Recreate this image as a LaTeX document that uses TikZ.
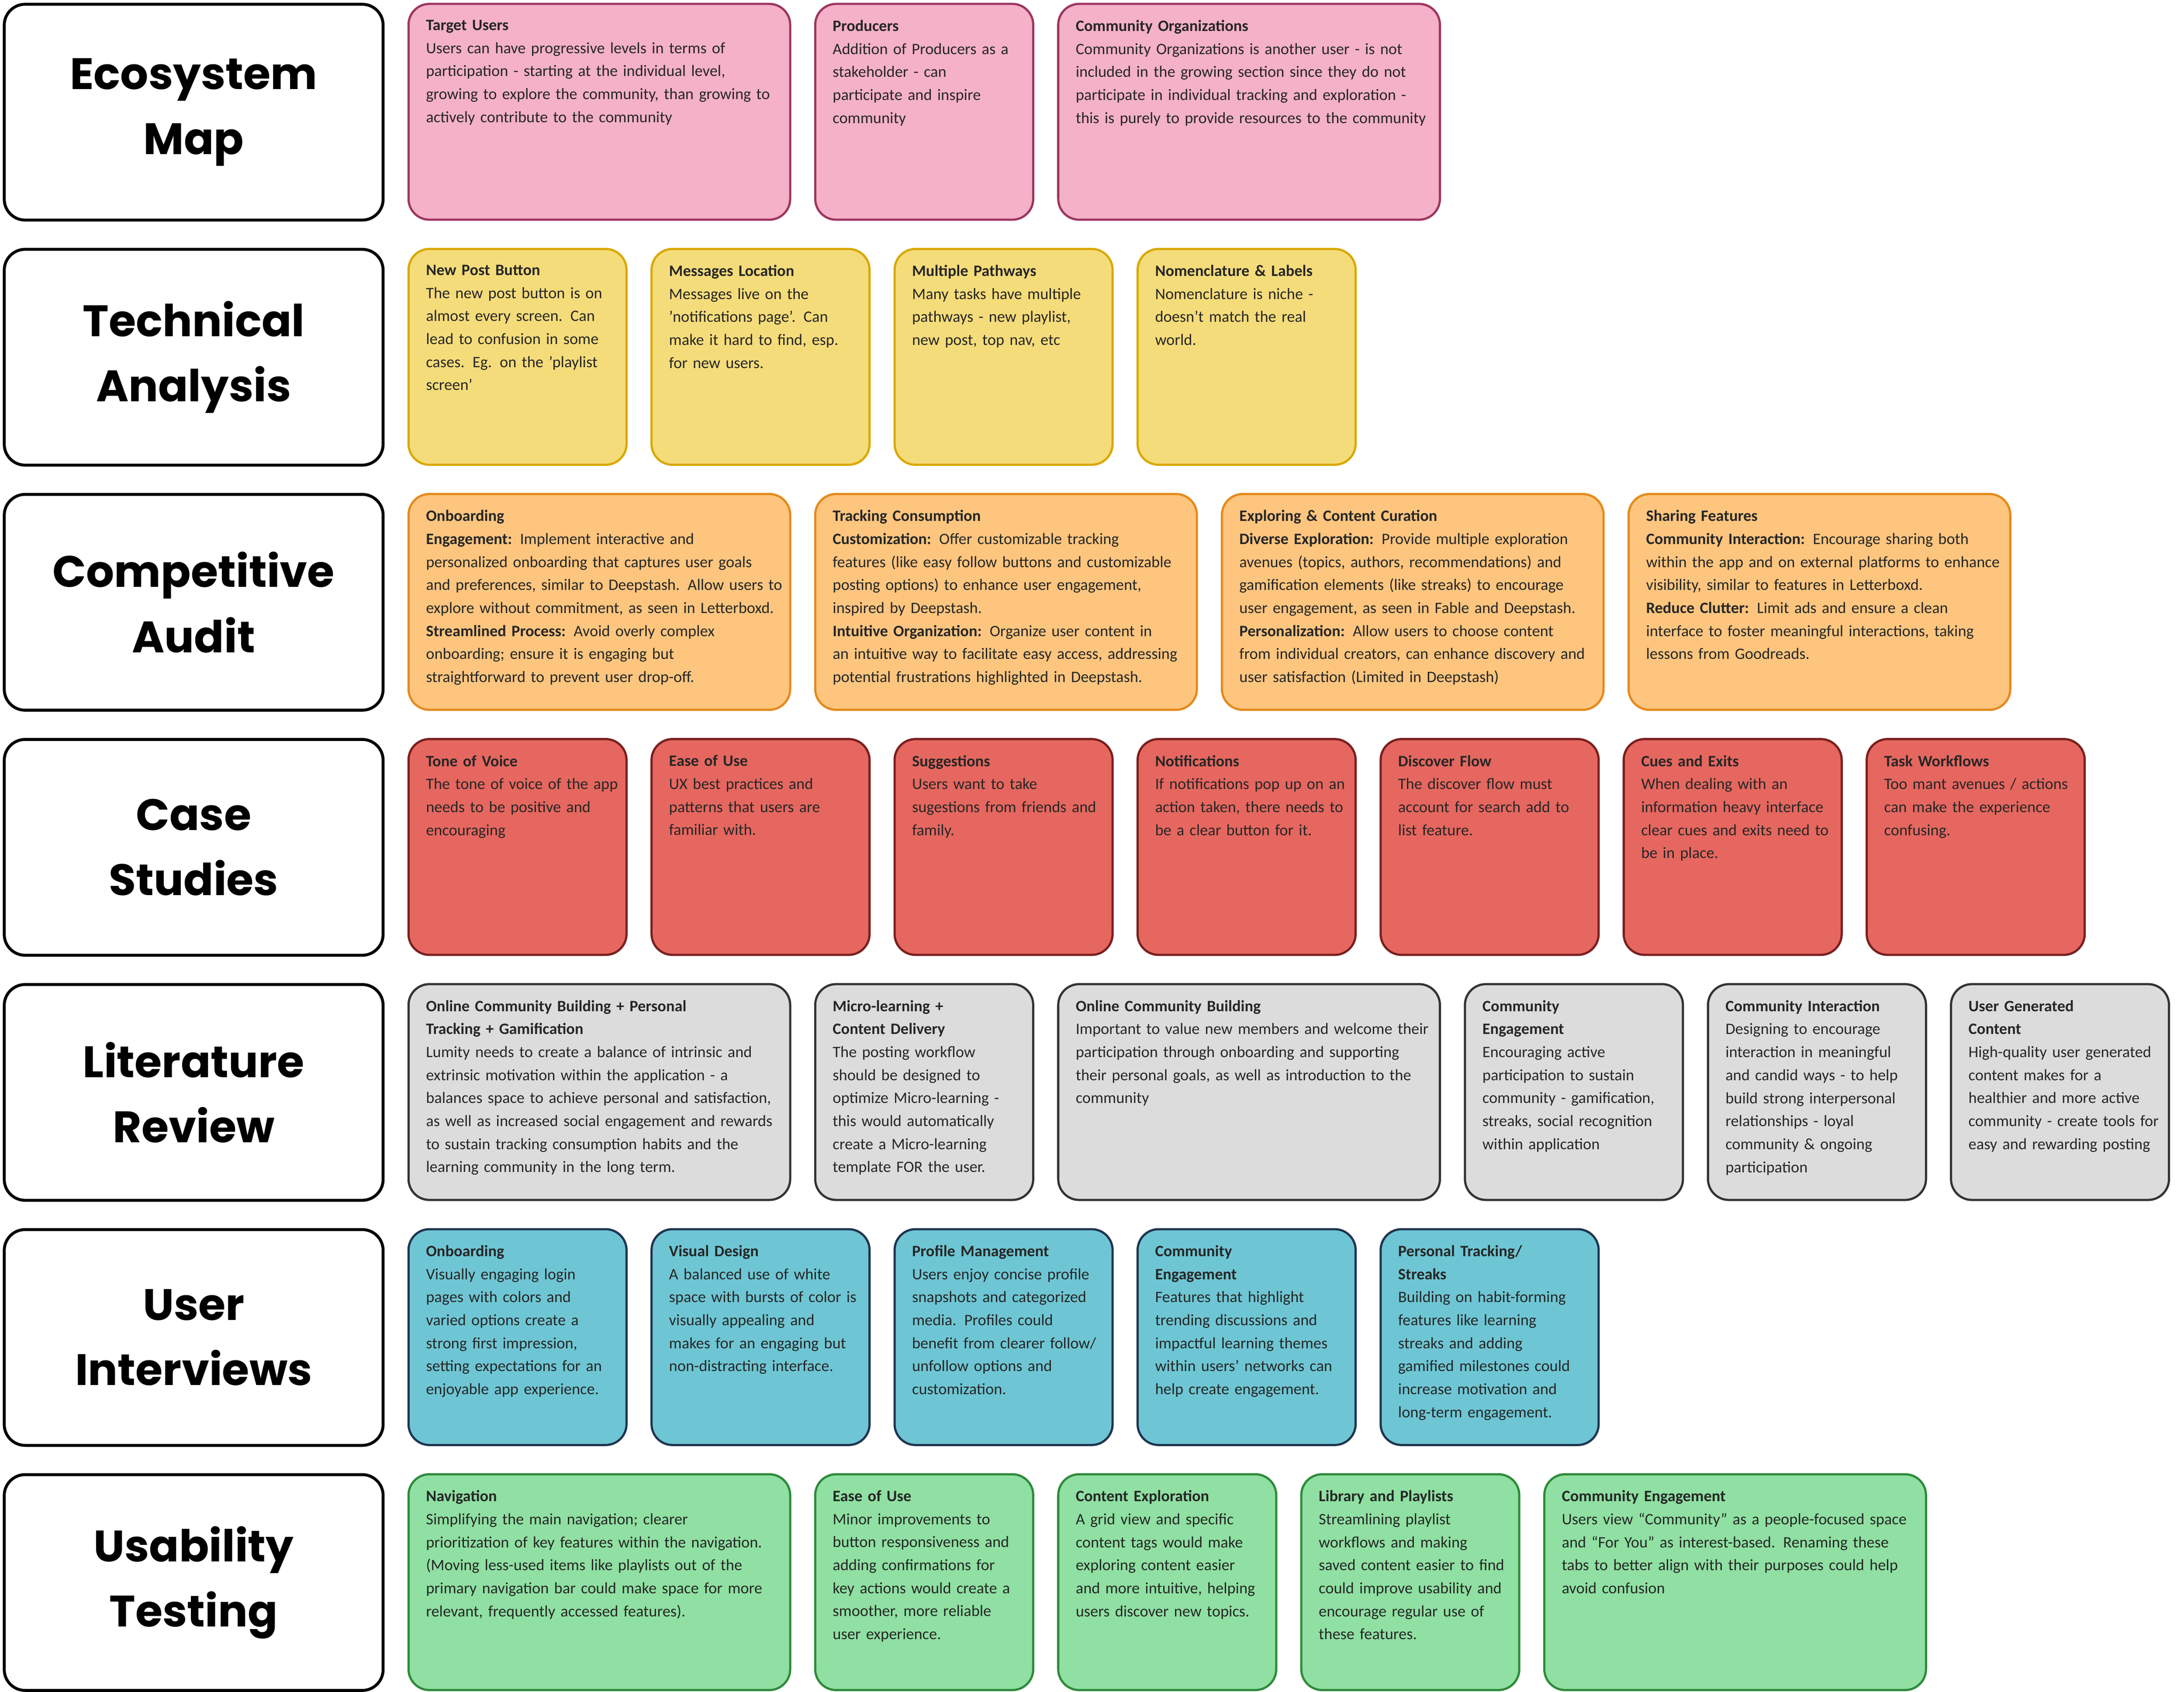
\documentclass[tikz,border=0pt]{standalone}
\usepackage{fontspec}
\setmainfont{Carlito}
\newfontfamily\labelfont{Poppins}
\usetikzlibrary{positioning}

\definecolor{pinkfill}{HTML}{F4B1C8}\definecolor{pinkline}{HTML}{9E3561}
\definecolor{yelfill}{HTML}{F5DC7A}\definecolor{yelline}{HTML}{D9A800}
\definecolor{orafill}{HTML}{FDC57E}\definecolor{oraline}{HTML}{E58A1C}
\definecolor{redfill}{HTML}{E5675F}\definecolor{redline}{HTML}{7A1F1F}
\definecolor{grayfill}{HTML}{DCDCDC}\definecolor{grayline}{HTML}{333333}
\definecolor{bluefill}{HTML}{6EC6D4}\definecolor{blueline}{HTML}{1F3550}
\definecolor{grnfill}{HTML}{8FE0A2}\definecolor{grnline}{HTML}{2E8B3A}

\tikzset{
  cardbase/.style={rectangle,rounded corners=0.3cm,line width=0.9pt,minimum height=3.1cm,inner sep=0pt},
  pinkcard/.style={cardbase,draw=pinkline,fill=pinkfill},
  yelcard/.style={cardbase,draw=yelline,fill=yelfill},
  oracard/.style={cardbase,draw=oraline,fill=orafill},
  redcard/.style={cardbase,draw=redline,fill=redfill},
  graycard/.style={cardbase,draw=grayline,fill=grayfill},
  bluecard/.style={cardbase,draw=blueline,fill=bluefill},
  grncard/.style={cardbase,draw=grnline,fill=grnfill},
  rowlabel/.style={cardbase,draw=black,line width=1.2pt,fill=white,minimum width=5.44cm,
    align=center,font=\labelfont\bfseries\fontsize{18}{26.7}\selectfont},
  cardtext/.style={inner sep=0pt,align=left,font=\fontsize{6.5}{9.4}\selectfont,text=black!85}
}
% one card: name, previous node, width, style, title, body
\newcommand{\card}[6]{%
  \node[#4,minimum width=#3,below right=0cm and 0.328cm of #2.north east] (#1) {};
  \node[cardtext,text width=#3,below right=0.24cm and 0.26cm of #1.north west] (#1t) {\textbf{#5}\\#6};}

\begin{document}
\begin{tikzpicture}
  \useasboundingbox (0,0) rectangle (31.36,-24.3);

  % row labels
  \node[rowlabel,anchor=north west] (L1) at (0.04,-0.04) {Ecosystem\\Map};
  \node[rowlabel,anchor=north west] (L2) at (0.04,-3.56) {Technical\\Analysis};
  \node[rowlabel,anchor=north west] (L3) at (0.04,-7.08) {Competitive\\Audit};
  \node[rowlabel,anchor=north west] (L4) at (0.04,-10.60) {Case\\Studies};
  \node[rowlabel,anchor=north west] (L5) at (0.04,-14.12) {Literature\\Review};
  \node[rowlabel,anchor=north west] (L6) at (0.04,-17.64) {User\\Interviews};
  \node[rowlabel,anchor=north west] (L7) at (0.04,-21.16) {Usability\\Testing};

  % ecosystem map
  \card{E1}{L1}{5.48cm}{pinkcard}{Target Users}{Users can have progressive levels in terms of\\participation - starting at the individual level,\\growing to explore the community, than growing to\\actively contribute to the community}
  \card{E2}{E1}{3.13cm}{pinkcard}{Producers}{Addition of Producers as a\\stakeholder - can\\participate and inspire\\community}
  \card{E3}{E2}{5.48cm}{pinkcard}{Community Organizations}{Community Organizations is another user - is not\\included in the growing section since they do not\\participate in individual tracking and exploration -\\this is purely to provide resources to the community}

  % technical analysis
  \card{T1}{L2}{3.13cm}{yelcard}{New Post Button}{The new post button is on\\almost every screen. Can\\lead to confusion in some\\cases. Eg. on the 'playlist\\screen'}
  \card{T2}{T1}{3.13cm}{yelcard}{Messages Location}{Messages live on the\\'notifications page'. Can\\make it hard to find, esp.\\for new users.}
  \card{T3}{T2}{3.13cm}{yelcard}{Multiple Pathways}{Many tasks have multiple\\pathways - new playlist,\\new post, top nav, etc}
  \card{T4}{T3}{3.13cm}{yelcard}{Nomenclature \& Labels}{Nomenclature is niche -\\doesn't match the real\\world.}

  % competitive audit
  \card{C1}{L3}{5.48cm}{oracard}{Onboarding}{\textbf{Engagement:} Implement interactive and\\personalized onboarding that captures user goals\\and preferences, similar to Deepstash. Allow users to\\explore without commitment, as seen in Letterboxd.\\\textbf{Streamlined Process:} Avoid overly complex\\onboarding; ensure it is engaging but\\straightforward to prevent user drop-off.}
  \card{C2}{C1}{5.48cm}{oracard}{Tracking Consumption}{\textbf{Customization:} Offer customizable tracking\\features (like easy follow buttons and customizable\\posting options) to enhance user engagement,\\inspired by Deepstash.\\\textbf{Intuitive Organization:} Organize user content in\\an intuitive way to facilitate easy access, addressing\\potential frustrations highlighted in Deepstash.}
  \card{C3}{C2}{5.48cm}{oracard}{Exploring \& Content Curation}{\textbf{Diverse Exploration:} Provide multiple exploration\\avenues (topics, authors, recommendations) and\\gamification elements (like streaks) to encourage\\user engagement, as seen in Fable and Deepstash.\\\textbf{Personalization:} Allow users to choose content\\from individual creators, can enhance discovery and\\user satisfaction (Limited in Deepstash)}
  \card{C4}{C3}{5.48cm}{oracard}{Sharing Features}{\textbf{Community Interaction:} Encourage sharing both\\within the app and on external platforms to enhance\\visibility, similar to features in Letterboxd.\\\textbf{Reduce Clutter:} Limit ads and ensure a clean\\interface to foster meaningful interactions, taking\\lessons from Goodreads.}

  % case studies
  \card{S1}{L4}{3.13cm}{redcard}{Tone of Voice}{The tone of voice of the app\\needs to be positive and\\encouraging}
  \card{S2}{S1}{3.13cm}{redcard}{Ease of Use}{UX best practices and\\patterns that users are\\familiar with.}
  \card{S3}{S2}{3.13cm}{redcard}{Suggestions}{Users want to take\\sugestions from friends and\\family.}
  \card{S4}{S3}{3.13cm}{redcard}{Notifications}{If notifications pop up on an\\action taken, there needs to\\be a clear button for it.}
  \card{S5}{S4}{3.13cm}{redcard}{Discover Flow}{The discover flow must\\account for search add to\\list feature.}
  \card{S6}{S5}{3.13cm}{redcard}{Cues and Exits}{When dealing with an\\information heavy interface\\clear cues and exits need to\\be in place.}
  \card{S7}{S6}{3.13cm}{redcard}{Task Workflows}{Too mant avenues / actions\\can make the experience\\confusing.}

  % literature review
  \card{R1}{L5}{5.48cm}{graycard}{Online Community Building + Personal\\Tracking + Gamification}{Lumity needs to create a balance of intrinsic and\\extrinsic motivation within the application - a\\balances space to achieve personal and satisfaction,\\as well as increased social engagement and rewards\\to sustain tracking consumption habits and the\\learning community in the long term.}
  \card{R2}{R1}{3.13cm}{graycard}{Micro-learning +\\Content Delivery}{The posting workflow\\should be designed to\\optimize Micro-learning -\\this would automatically\\create a Micro-learning\\template FOR the user.}
  \card{R3}{R2}{5.48cm}{graycard}{Online Community Building}{Important to value new members and welcome their\\participation through onboarding and supporting\\their personal goals, as well as introduction to the\\community}
  \card{R4}{R3}{3.13cm}{graycard}{Community\\Engagement}{Encouraging active\\participation to sustain\\community - gamification,\\streaks, social recognition\\within application}
  \card{R5}{R4}{3.13cm}{graycard}{Community Interaction}{Designing to encourage\\interaction in meaningful\\and candid ways - to help\\build strong interpersonal\\relationships - loyal\\community \& ongoing\\participation}
  \card{R6}{R5}{3.13cm}{graycard}{User Generated\\Content}{High-quality user generated\\content makes for a\\healthier and more active\\community - create tools for\\easy and rewarding posting}

  % user interviews
  \card{U1}{L6}{3.13cm}{bluecard}{Onboarding}{Visually engaging login\\pages with colors and\\varied options create a\\strong first impression,\\setting expectations for an\\enjoyable app experience.}
  \card{U2}{U1}{3.13cm}{bluecard}{Visual Design}{A balanced use of white\\space with bursts of color is\\visually appealing and\\makes for an engaging but\\non-distracting interface.}
  \card{U3}{U2}{3.13cm}{bluecard}{Profile Management}{Users enjoy concise profile\\snapshots and categorized\\media. Profiles could\\benefit from clearer follow/\\unfollow options and\\customization.}
  \card{U4}{U3}{3.13cm}{bluecard}{Community\\Engagement}{Features that highlight\\trending discussions and\\impactful learning themes\\within users’ networks can\\help create engagement.}
  \card{U5}{U4}{3.13cm}{bluecard}{Personal Tracking/\\Streaks}{Building on habit-forming\\features like learning\\streaks and adding\\gamified milestones could\\increase motivation and\\long-term engagement.}

  % usability testing
  \card{B1}{L7}{5.48cm}{grncard}{Navigation}{Simplifying the main navigation; clearer\\prioritization of key features within the navigation.\\(Moving less-used items like playlists out of the\\primary navigation bar could make space for more\\relevant, frequently accessed features).}
  \card{B2}{B1}{3.13cm}{grncard}{Ease of Use}{Minor improvements to\\button responsiveness and\\adding confirmations for\\key actions would create a\\smoother, more reliable\\user experience.}
  \card{B3}{B2}{3.13cm}{grncard}{Content Exploration}{A grid view and specific\\content tags would make\\exploring content easier\\and more intuitive, helping\\users discover new topics.}
  \card{B4}{B3}{3.13cm}{grncard}{Library and Playlists}{Streamlining playlist\\workflows and making\\saved content easier to find\\could improve usability and\\encourage regular use of\\these features.}
  \card{B5}{B4}{5.48cm}{grncard}{Community Engagement}{Users view ``Community'' as a people-focused space\\and ``For You'' as interest-based. Renaming these\\tabs to better align with their purposes could help\\avoid confusion}
\end{tikzpicture}
\end{document}
